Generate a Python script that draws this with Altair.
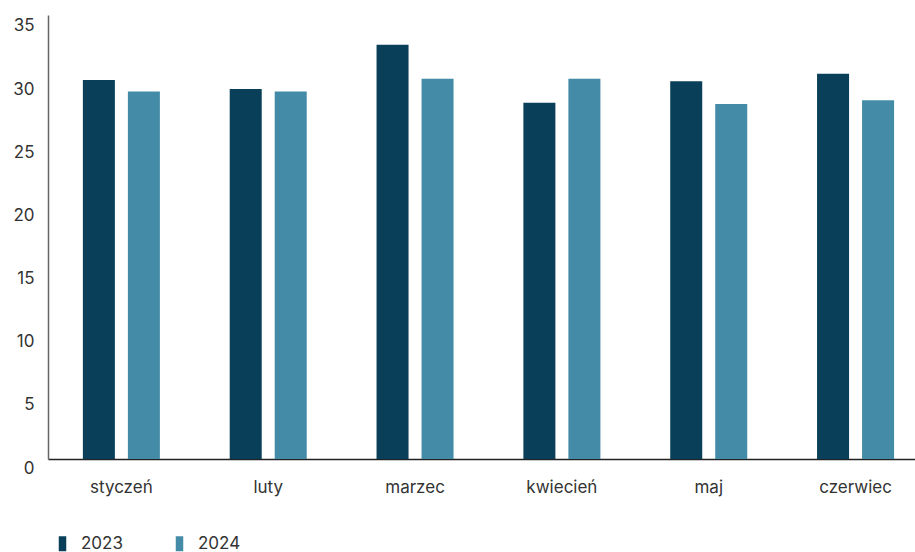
import altair as alt
import pandas as pd

months = ["styczeń", "luty", "marzec", "kwiecień", "maj", "czerwiec"]
years = ["2023", "2024"]
values_2023 = [30.0, 29.3, 32.8, 28.2, 29.9, 30.5]
values_2024 = [29.1, 29.1, 30.1, 30.1, 28.1, 28.4]
colors = ["#093f58", "#448ba7"]

rows = []
for i, m in enumerate(months):
    rows.append({"miesiac": m, "rok": years[0], "wartosc": values_2023[i]})
    rows.append({"miesiac": m, "rok": years[1], "wartosc": values_2024[i]})
df = pd.DataFrame(rows)

FONT = "Inter"
FS = 17

chart = (
    alt.Chart(df)
    .mark_bar()
    .encode(
        x=alt.X(
            "miesiac:N",
            sort=months,
            title=None,
            scale=alt.Scale(paddingInner=0.4755, paddingOuter=0.19, align=0.625),
            axis=alt.Axis(
                labelAngle=0,
                labelFontSize=FS,
                labelColor="#333333",
                labelFont=FONT,
                labelPadding=20,
                ticks=False,
                domainColor="#222222",
                domainWidth=1.5,
                grid=False,
            ),
        ),
        xOffset=alt.XOffset(
            "rok:N",
            sort=years,
            scale=alt.Scale(paddingInner=0.2889, paddingOuter=0),
        ),
        y=alt.Y(
            "wartosc:Q",
            title=None,
            scale=alt.Scale(domain=[0, 35.15], nice=False, zero=True),
            axis=alt.Axis(
                values=[0, 5, 10, 15, 20, 25, 30, 35],
                labelFontSize=FS,
                labelColor="#333333",
                labelFont=FONT,
                labelPadding=14,
                labelOffset=9,
                ticks=False,
                domainColor="#666666",
                domainWidth=1.5,
                grid=False,
            ),
        ),
        color=alt.Color(
            "rok:N",
            sort=years,
            scale=alt.Scale(domain=years, range=colors),
            legend=alt.Legend(
                title=None,
                orient="none",
                direction="horizontal",
                legendX=6,
                legendY=520,
                symbolType="M-0.5,-1h1v2h-1Z",
                symbolSize=225,
                symbolStrokeWidth=0,
                labelFontSize=FS,
                labelFont=FONT,
                labelColor="#333333",
                labelOffset=10,
                columnPadding=48,
                padding=0,
            ),
        ),
    )
    .properties(
        width=867,
        height=444,
        padding={"left": 48, "top": 15, "right": 0, "bottom": 93},
        autosize=alt.AutoSizeParams(type="none"),
    )
    .configure_view(stroke=None)
)

chart.save("out.html", embed_options={"renderer": "svg", "actions": False})
